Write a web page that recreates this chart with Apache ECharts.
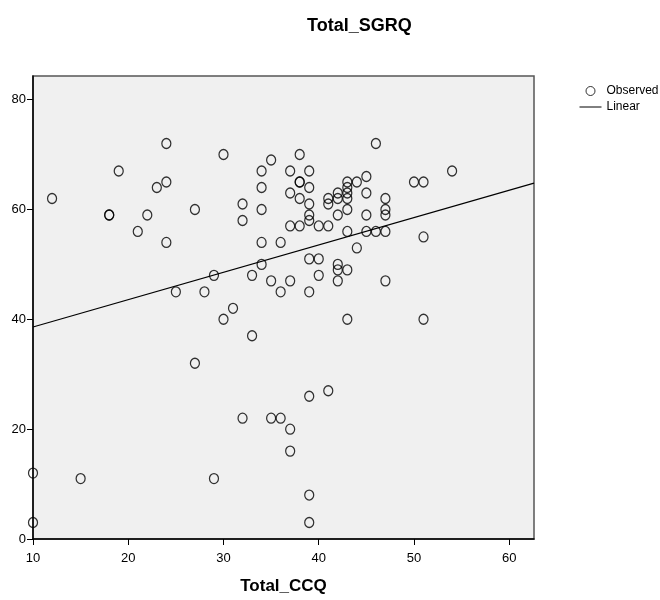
<!DOCTYPE html>
<html>
<head>
<meta charset="utf-8">
<script src="https://cdn.jsdelivr.net/npm/echarts@6/dist/echarts.min.js"></script>
<style>
  html, body { margin: 0; padding: 0; background: #fff; }
  #chart { width: 660px; height: 600px; }
</style>
</head>
<body>
<div id="chart"></div>
<script>
// observed points (Total_CCQ, Total_SGRQ)
var ccq = [12, 19, 18, 18, 21, 22, 23, 24, 24, 24, 27, 25, 28, 29, 30, 31, 30, 32, 32, 33,
           34, 34, 34, 34, 34, 35, 35, 36, 36, 38, 37, 39, 38, 38, 39, 37, 38, 39, 39, 39,
           37, 38, 40, 41, 41, 41, 42, 42, 42, 43, 43, 43, 43, 43, 43, 44, 44, 45, 45, 45,
           45, 46, 46, 47, 47, 47, 47, 47, 50, 51, 51, 54, 39, 40, 42, 42, 43, 40, 42, 39,
           37, 43, 51, 39, 41, 35, 36, 37, 37, 39, 39, 10, 10, 15, 29, 27, 33, 32];
var sgrq = [62, 67, 59, 59, 56, 59, 64, 72, 65, 54, 60, 45, 45, 48, 70, 42, 40, 61, 58, 48,
            67, 64, 60, 54, 50, 69, 47, 54, 45, 70, 67, 67, 65, 65, 64, 63, 62, 61, 59, 58,
            57, 57, 57, 57, 62, 61, 63, 62, 59, 65, 64, 63, 62, 60, 56, 65, 53, 66, 63, 59,
            56, 72, 56, 62, 60, 59, 56, 47, 65, 65, 55, 67, 51, 51, 50, 49, 49, 48, 47, 45,
            47, 40, 40, 26, 27, 22, 22, 20, 16, 8, 3, 12, 3, 11, 11, 32, 37, 22];

// linear fit end points
var fitX = [10, 62.6];
var fitY = [38.6, 64.8];

var xTicks = [10, 20, 30, 40, 50, 60];
var yTicks = [0, 20, 40, 60, 80];

var font = "'Liberation Sans', Arial, sans-serif";

var points = [];
for (var i = 0; i < ccq.length; i++) {
    points.push([ccq[i], sgrq[i]]);
}
var fitLine = [];
for (var j = 0; j < fitX.length; j++) {
    fitLine.push([fitX[j], fitY[j]]);
}

var option = {
    animation: false,
    title: {
        text: 'Total_SGRQ',
        left: 302,
        top: 12,
        textStyle: { fontSize: 18, fontWeight: 'bold', color: '#000', fontFamily: font }
    },
    legend: {
        orient: 'vertical',
        left: 574,
        top: 80,
        itemWidth: 22,
        itemHeight: 9,
        itemGap: 4,
        textStyle: { fontSize: 12, color: '#000', fontFamily: font },
        data: [
            { name: 'Observed', itemStyle: { borderWidth: 1 } },
            { name: 'Linear', itemStyle: { opacity: 0 }, lineStyle: { width: 1 } }
        ]
    },
    grid: {
        left: 33, top: 76, right: 126, bottom: 61,
        show: true,
        backgroundColor: '#f0f0f0',
        borderColor: '#555',
        borderWidth: 1.5
    },
    xAxis: {
        type: 'value',
        min: 10,
        max: 62.6,
        name: 'Total_CCQ',
        nameLocation: 'middle',
        nameGap: 39,
        nameTextStyle: { fontSize: 17, fontWeight: 'bold', color: '#000', fontFamily: font },
        axisLine: { show: true, lineStyle: { color: '#000', width: 1.5 } },
        axisTick: { show: true, length: 6, customValues: xTicks, lineStyle: { color: '#000' } },
        axisLabel: { color: '#000', fontSize: 13, fontFamily: font, margin: 13, customValues: xTicks },
        splitLine: { show: false }
    },
    yAxis: {
        type: 'value',
        min: 0,
        max: 84.3,
        axisLine: { show: true, lineStyle: { color: '#000', width: 1.5 } },
        axisTick: { show: true, length: 6, customValues: yTicks, lineStyle: { color: '#000' } },
        axisLabel: { color: '#000', fontSize: 13, fontFamily: font, margin: 7, customValues: yTicks },
        splitLine: { show: false }
    },
    series: [
        {
            name: 'Observed',
            type: 'scatter',
            symbol: 'circle',
            symbolSize: [9, 10],
            itemStyle: { color: 'rgba(0,0,0,0)', borderColor: '#000', borderWidth: 1.3 },
            data: points,
            z: 3
        },
        {
            name: 'Linear',
            type: 'line',
            symbol: 'none',
            lineStyle: { color: '#000', width: 1.2 },
            itemStyle: { color: '#000' },
            data: fitLine,
            z: 2
        }
    ]
};

var myChart = echarts.init(document.getElementById('chart'));
myChart.setOption(option);
</script>
</body>
</html>
